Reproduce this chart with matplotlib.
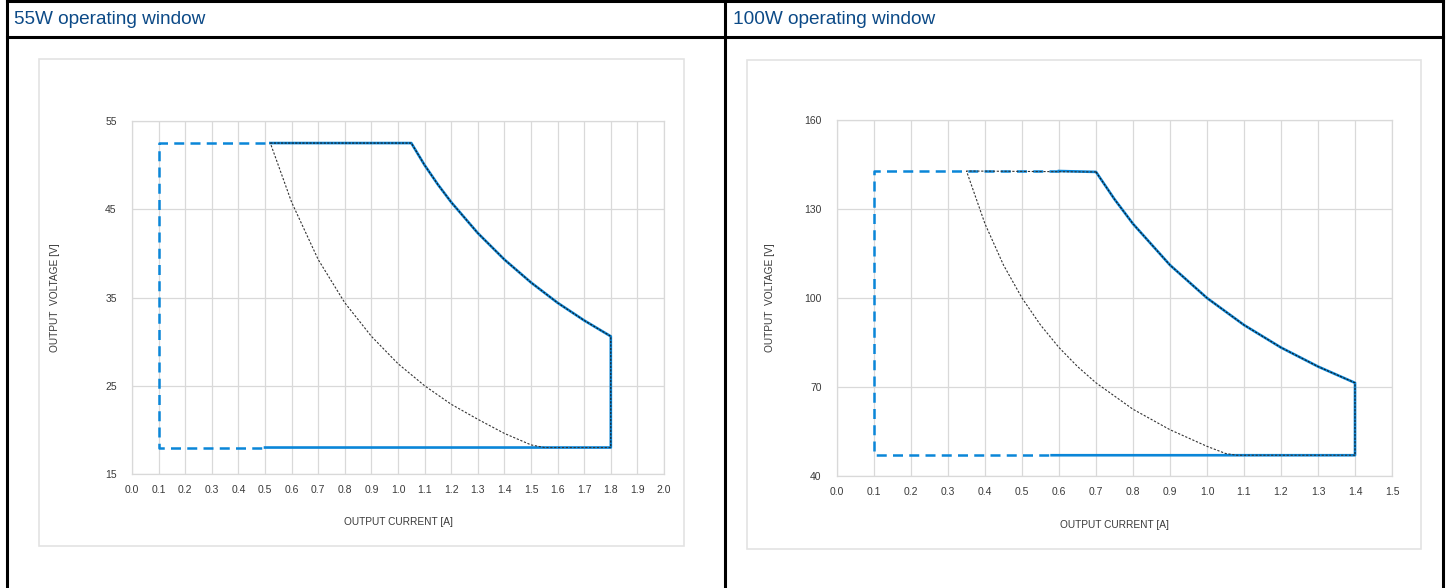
import numpy as np
import matplotlib.pyplot as plt
from matplotlib.lines import Line2D
from matplotlib.patches import Rectangle

plt.rcParams['font.family'] = ['Liberation Sans', 'DejaVu Sans']

# ---- 55W window data ----
w55_dash_i = [0.5, 0.1, 0.1, 0.5]
w55_dash_v = [52.5, 52.5, 18.0, 18.0]
w55_solid_i = [0.52, 1.05, 1.1, 1.15, 1.2, 1.3, 1.4, 1.5, 1.6, 1.7, 1.8, 1.8, 0.5]
w55_solid_v = [52.5, 52.5, 50.0, 47.8, 45.8, 42.3, 39.3, 36.7, 34.4, 32.4, 30.6, 18.0, 18.0]
w55_inner_i = [1.8, 1.55, 1.5, 1.4, 1.3, 1.2, 1.1, 1.0, 0.9, 0.8, 0.7, 0.6, 0.52]
w55_inner_v = [18.0, 18.0, 18.3, 19.6, 21.2, 22.9, 25.0, 27.5, 30.6, 34.4, 39.3, 45.8, 52.5]

# ---- 100W window data ----
w100_dash_i = [0.6, 0.1, 0.1, 0.58]
w100_dash_v = [142.8, 142.8, 47.0, 47.0]
w100_solid_i = [0.6, 0.7, 0.75, 0.8, 0.9, 1.0, 1.1, 1.2, 1.3, 1.4, 1.4, 0.58]
w100_solid_v = [142.8, 142.5, 133.3, 125.0, 111.1, 100.0, 90.9, 83.3, 76.9, 71.4, 47.0, 47.0]
w100_inner_i = [1.4, 1.08, 1.05, 1.0, 0.9, 0.8, 0.7, 0.65, 0.6, 0.55, 0.5, 0.45, 0.4, 0.35, 0.7]
w100_inner_v = [47.0, 47.0, 47.6, 50.0, 55.6, 62.5, 71.4, 76.9, 83.3, 90.9, 100.0, 111.1, 125.0, 142.8, 142.5]

panels = [
    dict(title='55W operating window', dash=(w55_dash_i, w55_dash_v),
         solid=(w55_solid_i, w55_solid_v), inner=(w55_inner_i, w55_inner_v),
         outline=(w55_solid_i[:-1], w55_solid_v[:-1]),
         xmax=2.0, ylim=(15, 55), ystep=10,
         ax_px=(132, 121, 664, 474), box_px=(39, 59, 684, 546), title_x=14,
         xlab_y=517, ylab_x=60),
    dict(title='100W operating window', dash=(w100_dash_i, w100_dash_v),
         solid=(w100_solid_i, w100_solid_v), inner=(w100_inner_i, w100_inner_v),
         outline=(w100_solid_i[1:-1], w100_solid_v[1:-1]),
         xmax=1.5, ylim=(40, 160), ystep=30,
         ax_px=(837, 120, 1392, 476), box_px=(747, 60, 1421, 549), title_x=733,
         xlab_y=520, ylab_x=775),
]

W, H = 1451, 588
fig = plt.figure(figsize=(W / 100, H / 100), dpi=100)

blue = '#0a86d8'
grid_col = '#d9d9d9'
text_col = '#3a3a3a'


def fx(px):
    return px / W


def fy(py):
    return 1 - py / H


# table frame
for x0, y0, x1, y1 in [(7, 1, 1443, 1), (7, 37, 1443, 37), (7, 0, 7, H),
                       (725, 0, 725, H), (1443, 0, 1443, H)]:
    fig.add_artist(Line2D([fx(x0), fx(x1)], [fy(y0), fy(y1)], color='black', lw=2.2,
                          transform=fig.transFigure))

for p in panels:
    fig.text(fx(p['title_x']), fy(20), p['title'], color='#0c4a87', fontsize=13.7,
             ha='left', va='center')

    bx0, by0, bx1, by1 = p['box_px']
    fig.add_artist(Rectangle((fx(bx0), fy(by1)), fx(bx1 - bx0), (by1 - by0) / H,
                             transform=fig.transFigure, fill=False,
                             edgecolor='#e3e3e3', lw=1.2))

    x0, y0, x1, y1 = p['ax_px']
    ax = fig.add_axes([fx(x0), fy(y1), fx(x1 - x0), (y1 - y0) / H])
    ax.set_xlim(0, p['xmax'])
    ax.set_ylim(*p['ylim'])
    xt = np.round(np.arange(0, p['xmax'] + 0.01, 0.1), 1)
    ax.set_xticks(xt)
    ax.set_xticklabels(['%.1f' % v for v in xt])
    ax.set_yticks(np.arange(p['ylim'][0], p['ylim'][1] + 1, p['ystep']))
    ax.tick_params(length=0, labelsize=7.5, colors=text_col, pad=8)
    ax.tick_params(axis='y', pad=11)
    ax.grid(True, color=grid_col, lw=0.9)
    ax.set_axisbelow(True)
    for s in ax.spines.values():
        s.set_color(grid_col)
        s.set_linewidth(0.9)

    ax.plot(*p['dash'], color=blue, lw=1.8, dashes=(4, 2.5), solid_capstyle='butt')
    ax.plot(*p['solid'], color=blue, lw=1.9)
    ax.plot(*p['outline'], color='#1a1a1a', lw=0.8, dashes=(2, 1.2))
    ax.plot(*p['inner'], color='#333333', lw=0.8, dashes=(2, 1.5))

    ax.set_xlabel('OUTPUT CURRENT [A]', fontsize=7.3, color=text_col)
    ax.set_ylabel('OUTPUT  VOLTAGE [V]', fontsize=7.3, color=text_col)
    ax.xaxis.set_label_coords(0.5, -(p['xlab_y'] - y1) / (y1 - y0))
    ax.yaxis.set_label_coords(-(x0 - p['ylab_x']) / (x1 - x0), 0.5)

fig.savefig('out.png', dpi=100)
